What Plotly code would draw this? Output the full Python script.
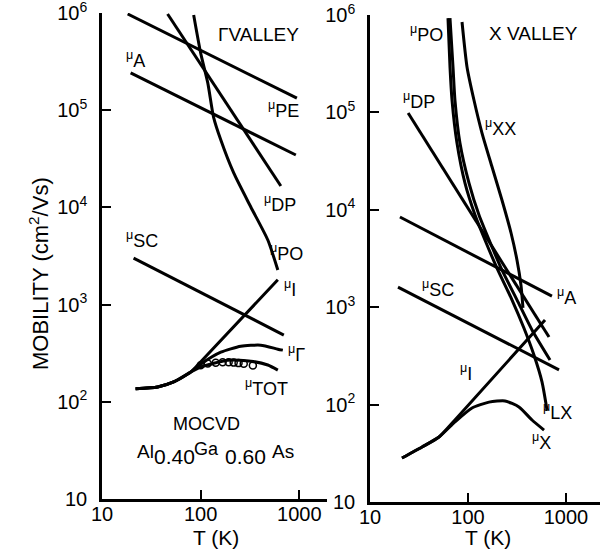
import plotly.graph_objects as go

W, H = 600, 559

# ---------------- Left panel: Gamma valley ----------------
L_PE_T = [18.2, 944]
L_PE_MU = [9.77e5, 1.33e5]
L_A_T = [19.5, 921]
L_A_MU = [2.42e5, 3.46e4]
L_DP_T = [46.2, 649]
L_DP_MU = [9.77e5, 1.66e4]
L_PO_T = [84.9, 100, 118, 135, 160, 216, 322, 479, 605]
L_PO_MU = [9.55e5, 3.87e5, 1.91e5, 8.5e4, 4.93e4, 2.26e4, 1.01e4, 4.62e3, 2.27e3]
L_SC_T = [20.9, 696]
L_SC_MU = [3.01e3, 486]
L_I_T = [21.9, 36.6, 53.2, 79.1, 93.3, 605]
L_I_MU = [136, 142, 160, 202, 239, 1800]
L_G_T = [21.9, 36.6, 53.2, 79.1, 100, 160, 255, 406, 605, 680]
L_G_MU = [136, 142, 160, 202, 244, 324, 373, 382, 348, 340]
L_TOT_T = [21.9, 36.6, 53.2, 79.1, 100, 188, 322, 479, 605]
L_TOT_MU = [136, 142, 160, 202, 228, 268, 262, 239, 212]
L_EXP_T = [100, 118, 142, 167, 192, 216, 242, 273, 338]
L_EXP_MU = [238, 248, 252, 255, 255, 253, 250, 246, 236]

# ---------------- Right panel: X valley ----------------
R_PO_T = [65.5, 70.3, 73.6, 82.8, 102.4, 129.5, 167.5, 222, 316, 450, 687]
R_PO_MU = [9.3e5, 2.93e5, 1.34e5, 4.85e4, 1.88e4, 8.85e3, 4.67e3, 2.41e3, 1.19e3, 584, 287]
R_LX_T = [62.5, 65.5, 68.7, 77.2, 93.2, 118, 149, 197.6, 281, 372, 471, 569, 640]
R_LX_MU = [9.3e5, 2.93e5, 1.34e5, 4.85e4, 1.88e4, 8.85e3, 4.9e3, 2.52e3, 1.19e3, 611, 323, 171, 88]
R_XX_T = [86.9, 97.7, 115, 139, 176, 222, 275, 316, 347, 364]
R_XX_MU = [8.47e5, 2.93e5, 1.34e5, 6.14e4, 2.75e4, 1.26e4, 5.78e3, 3.05e3, 1.69e3, 982]
R_DP_T = [24.5, 671]
R_DP_MU = [9.86e4, 494]
R_A_T = [20.2, 719]
R_A_MU = [8.43e3, 1.3e3]
R_SC_T = [19.3, 849]
R_SC_MU = [1.61e3, 227]
R_I_T = [21.2, 34, 50.6, 73.6, 611]
R_I_MU = [28.3, 36.7, 46.5, 69.5, 739]
R_X_T = [21.2, 34, 50.6, 73.6, 109.9, 163.8, 238.6, 331, 450, 597]
R_X_MU = [28.3, 36.7, 46.5, 66.3, 92.3, 106, 109, 94.5, 69.5, 54.8]

X_TICKS = [10, 100, 1000]
X_TICKTEXT = ["10", "100", "1000"]
Y_TICKS = [10, 1e2, 1e3, 1e4, 1e5, 1e6]
Y_TICKTEXT = ["10", "10<sup>2</sup>", "10<sup>3</sup>", "10<sup>4</sup>", "10<sup>5</sup>", "10<sup>6</sup>"]

FONT = "Liberation Sans"
LW = 3

fig = go.Figure()

def line(T, M, xa, ya, spline=False):
    fig.add_trace(go.Scatter(
        x=T, y=M, mode="lines", xaxis=xa, yaxis=ya,
        line=dict(color="black", width=LW, shape="spline" if spline else "linear",
                  smoothing=0.6),
        showlegend=False, hoverinfo="skip"))

line(L_PE_T, L_PE_MU, "x", "y")
line(L_A_T, L_A_MU, "x", "y")
line(L_DP_T, L_DP_MU, "x", "y")
line(L_PO_T, L_PO_MU, "x", "y", True)
line(L_SC_T, L_SC_MU, "x", "y")
line(L_I_T, L_I_MU, "x", "y", True)
line(L_G_T, L_G_MU, "x", "y", True)
line(L_TOT_T, L_TOT_MU, "x", "y", True)
fig.add_trace(go.Scatter(
    x=L_EXP_T, y=L_EXP_MU, mode="markers", xaxis="x", yaxis="y",
    marker=dict(symbol="circle-open", size=7, color="black", line=dict(width=1.5)),
    showlegend=False, hoverinfo="skip"))

line(R_PO_T, R_PO_MU, "x2", "y2", True)
line(R_LX_T, R_LX_MU, "x2", "y2", True)
line(R_XX_T, R_XX_MU, "x2", "y2", True)
line(R_DP_T, R_DP_MU, "x2", "y2")
line(R_A_T, R_A_MU, "x2", "y2")
line(R_SC_T, R_SC_MU, "x2", "y2")
line(R_I_T, R_I_MU, "x2", "y2", True)
line(R_X_T, R_X_MU, "x2", "y2", True)

def px(x):
    return x / W

def py(y):
    return 1 - y / H

axis_common = dict(
    type="log", showline=True, linecolor="black", linewidth=2.5,
    ticks="inside", ticklen=9, tickwidth=2, tickcolor="black",
    showgrid=False, zeroline=False, mirror=False, automargin=False,
    ticklabeloverflow="allow",
    tickfont=dict(family=FONT, size=20, color="black"),
)

fig.update_layout(
    template="none",
    width=W, height=H, margin=dict(l=0, r=0, t=0, b=0, pad=0),
    paper_bgcolor="white", plot_bgcolor="white",
    xaxis=dict(axis_common, domain=[px(102), px(327)], range=[1, 3.28], anchor="y",
               tickvals=X_TICKS, ticktext=X_TICKTEXT, ticklabelstandoff=-5),
    yaxis=dict(axis_common, domain=[py(499), py(13)], range=[1, 6], anchor="x",
               tickvals=Y_TICKS, ticktext=Y_TICKTEXT, ticklabelstandoff=8),
    xaxis2=dict(axis_common, domain=[px(370), 1.0], range=[1, 3.347], anchor="y2",
                tickvals=X_TICKS, ticktext=X_TICKTEXT, ticklabelstandoff=-5),
    yaxis2=dict(axis_common, domain=[py(502), py(15)], range=[1, 6], anchor="x2",
                tickvals=Y_TICKS, ticktext=Y_TICKTEXT, ticklabelstandoff=8),
)

annots = []

def txt(text, x, y, size=18, xanchor="left", angle=0):
    annots.append(dict(text=text, x=px(x), y=py(y), xref="paper", yref="paper",
                       xanchor=xanchor, yanchor="middle", showarrow=False,
                       textangle=angle,
                       font=dict(family=FONT, size=size, color="black")))

# curve labels, left
txt("<sup>μ</sup>A", 124, 59)
txt("<sup>μ</sup>PE", 266, 109)
txt("<sup>μ</sup>DP", 262, 203)
txt("<sup>μ</sup>PO", 268, 253)
txt("<sup>μ</sup>SC", 124, 240)
txt("<sup>μ</sup>I", 282, 288)
txt("<sup>μ</sup>Γ", 286, 353)
txt("<sup>μ</sup>TOT", 243, 387)
txt("ΓVALLEY", 216, 35, 19)
txt("MOCVD", 207, 424, 18, "center")
txt("Al", 145, 451, 19, "center")
txt("0.40", 174, 456, 21, "center")
txt("Ga", 206, 449, 18, "center")
txt("0.60", 245, 456, 21, "center")
txt("As", 283, 451, 19, "center")

# curve labels, right
txt("<sup>μ</sup>PO", 408, 34)
txt("X VALLEY", 533, 34, 19, "center")
txt("<sup>μ</sup>DP", 401, 101)
txt("<sup>μ</sup>XX", 483, 128)
txt("<sup>μ</sup>SC", 420, 289)
txt("<sup>μ</sup>A", 555, 296)
txt("<sup>μ</sup>I", 458, 372)
txt("<sup>μ</sup>LX", 541, 411)
txt("<sup>μ</sup>X", 530, 441)

# axis titles
txt("T (K)", 216, 537, 21, "center")
txt("T (K)", 488, 537, 21, "center")
txt("MOBILITY (cm<sup>2</sup>/Vs)", 39, 274, 22, "center", -90)

fig.update_layout(annotations=annots)

fig.write_html("out.html")
